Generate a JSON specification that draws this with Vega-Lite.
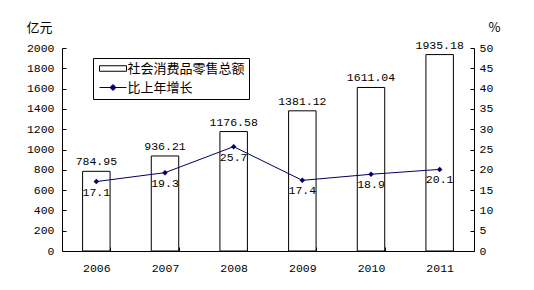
{
  "$schema": "https://vega.github.io/schema/vega-lite/v6.json",
  "width": 412,
  "height": 203,
  "autosize": "none",
  "padding": {"left": 62, "top": 48, "right": 60, "bottom": 39},
  "background": "white",
  "config": {
    "view": {"stroke": null},
    "axis": {
      "grid": false,
      "domainColor": "black",
      "tickColor": "black",
      "labelColor": "black",
      "labelFont": "Liberation Mono",
      "labelFontSize": 11.5,
      "titleFont": "Noto Sans CJK SC",
      "titleFontSize": 13,
      "titleFontWeight": "normal",
      "titleColor": "black"
    },
    "text": {"font": "Liberation Mono", "fontSize": 11.5, "color": "black"}
  },
  "data": {
    "values": [
      {"year": "2006", "sales": 784.95, "growth": 17.1},
      {"year": "2007", "sales": 936.21, "growth": 19.3},
      {"year": "2008", "sales": 1176.58, "growth": 25.7},
      {"year": "2009", "sales": 1381.12, "growth": 17.4},
      {"year": "2010", "sales": 1611.04, "growth": 18.9},
      {"year": "2011", "sales": 1935.18, "growth": 20.1}
    ]
  },
  "encoding": {
    "x": {
      "field": "year",
      "type": "ordinal",
      "scale": {"paddingInner": 0.6, "paddingOuter": 0.3},
      "axis": {"title": null, "labelAngle": 0, "tickBand": "extent", "tickSize": -4, "labelPadding": 15}
    }
  },
  "layer": [
    {
      "encoding": {
        "y": {
          "field": "sales",
          "type": "quantitative",
          "scale": {"domain": [0, 2000], "nice": false},
          "axis": {
            "values": [0, 200, 400, 600, 800, 1000, 1200, 1400, 1600, 1800, 2000],
            "format": "d",
            "title": "亿元",
            "titleAngle": 0,
            "titleX": -23,
            "titleY": -21,
            "titleAlign": "center",
            "titleBaseline": "middle",
            "tickSize": -4,
            "labelPadding": 12
          }
        }
      },
      "layer": [
        {
          "mark": {"type": "bar", "fill": "white", "strokeWidth": 1},
          "encoding": {
            "stroke": {
              "datum": "社会消费品零售总额",
              "scale": {"domain": ["社会消费品零售总额", "比上年增长"], "range": ["black", "#000066"]},
              "legend": {
                "orient": "none",
                "legendX": 31,
                "legendY": 10,
                "title": null,
                "strokeColor": "black",
                "fillColor": "white",
                "padding": 4,
                "labelFont": "Noto Sans CJK SC",
                "labelFontSize": 13,
                "labelColor": "black",
                "symbolSize": 100,
                "symbolOffset": 9.5,
                "labelOffset": 8,
                "rowPadding": 5,
                "encode": {
                  "symbols": {
                    "update": {
                      "shape": {"signal": "datum.value === '社会消费品零售总额' ? 'M-2.7,-0.55H2.7V0.55H-2.7Z' : 'M-2.7,0H-0.6L0,-0.6L0.6,0H2.7M0.6,0L0,0.6L-0.6,0Z'"},
                      "fill": {"signal": "datum.value === '社会消费品零售总额' ? 'white' : '#000066'"},
                      "strokeWidth": {"value": 1},
                      "opacity": {"value": 1}
                    }
                  }
                }
              }
            }
          }
        },
        {
          "mark": {"type": "text", "baseline": "bottom", "dy": -4},
          "encoding": {"text": {"field": "sales", "type": "quantitative", "format": ".2f"}}
        }
      ]
    },
    {
      "encoding": {
        "y": {
          "field": "growth",
          "type": "quantitative",
          "scale": {"domain": [0, 50], "nice": false},
          "axis": {
            "orient": "right",
            "values": [0, 5, 10, 15, 20, 25, 30, 35, 40, 45, 50],
            "title": "%",
            "titleAngle": 0,
            "titleX": 20,
            "titleY": -21,
            "titleAlign": "center",
            "titleBaseline": "middle",
            "tickSize": -4,
            "labelPadding": 9
          }
        }
      },
      "layer": [
        {
          "mark": {"type": "line", "strokeWidth": 1},
          "encoding": {"stroke": {"datum": "比上年增长", "legend": {
                "orient": "none",
                "legendX": 31,
                "legendY": 10,
                "title": null,
                "strokeColor": "black",
                "fillColor": "white",
                "padding": 4,
                "labelFont": "Noto Sans CJK SC",
                "labelFontSize": 13,
                "labelColor": "black",
                "symbolSize": 100,
                "symbolOffset": 9.5,
                "labelOffset": 8,
                "rowPadding": 5,
                "encode": {
                  "symbols": {
                    "update": {
                      "shape": {"signal": "datum.value === '社会消费品零售总额' ? 'M-2.7,-0.55H2.7V0.55H-2.7Z' : 'M-2.7,0H-0.6L0,-0.6L0.6,0H2.7M0.6,0L0,0.6L-0.6,0Z'"},
                      "fill": {"signal": "datum.value === '社会消费品零售总额' ? 'white' : '#000066'"},
                      "strokeWidth": {"value": 1},
                      "opacity": {"value": 1}
                    }
                  }
                }
              }}}
        },
        {
          "mark": {"type": "point", "shape": "diamond", "filled": true, "color": "#000066", "size": 30, "opacity": 1}
        },
        {
          "mark": {"type": "text", "baseline": "top", "dy": 5},
          "encoding": {"text": {"field": "growth", "type": "quantitative", "format": ".1f"}}
        }
      ]
    }
  ],
  "resolve": {"scale": {"y": "independent"}}
}
